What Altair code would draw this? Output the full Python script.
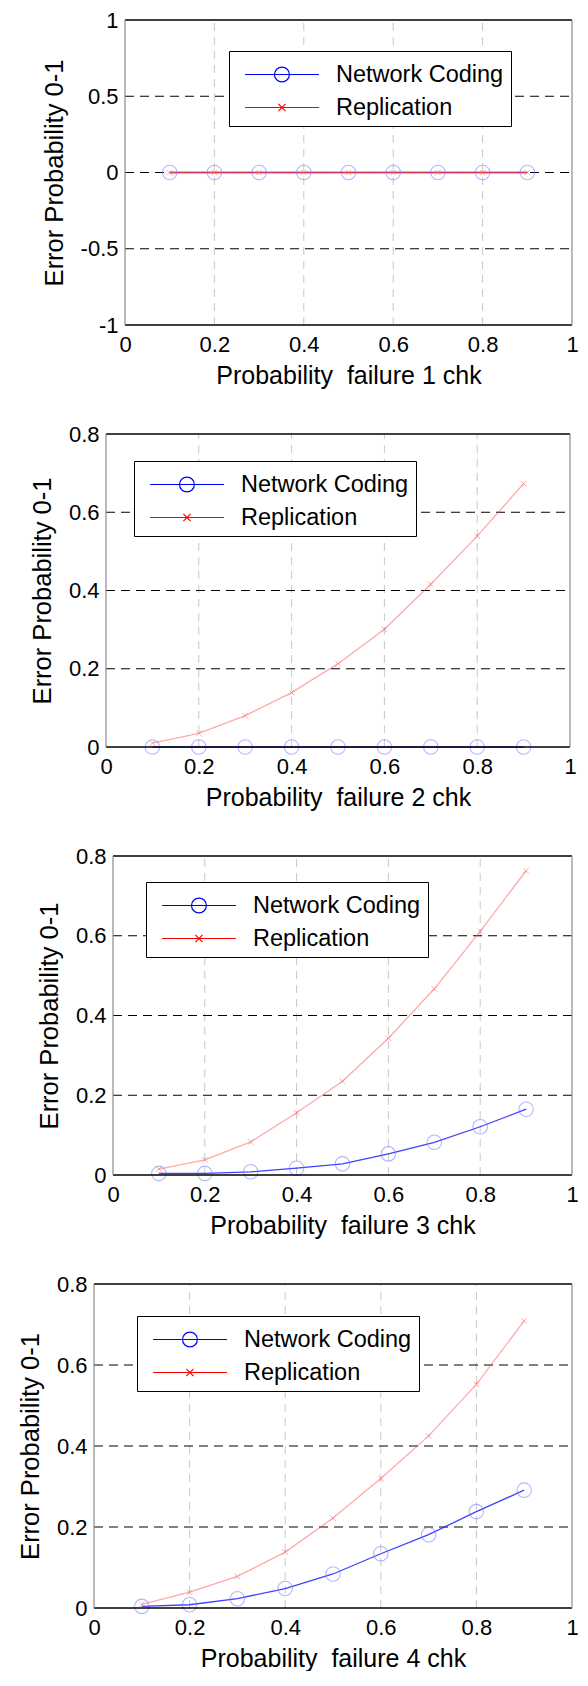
import altair as alt
import pandas as pd

# ---------------- data ----------------
x_vals = [0.1, 0.2, 0.3, 0.4, 0.5, 0.6, 0.7, 0.8, 0.9]
series_names = ["Network Coding", "Replication"]

nc_1 = [0, 0, 0, 0, 0, 0, 0, 0, 0]
rep_1 = [0, 0, 0, 0, 0, 0, 0, 0, 0]
nc_2 = [0, 0, 0, 0, 0, 0, 0, 0, 0]
rep_2 = [0.010, 0.035, 0.080, 0.139, 0.213, 0.301, 0.416, 0.539, 0.673]
nc_3 = [0.004, 0.004, 0.008, 0.017, 0.028, 0.053, 0.082, 0.121, 0.165]
rep_3 = [0.015, 0.038, 0.083, 0.156, 0.235, 0.343, 0.467, 0.611, 0.763]
nc_4 = [0.004, 0.008, 0.023, 0.048, 0.084, 0.134, 0.181, 0.238, 0.291]
rep_4 = [0.009, 0.039, 0.078, 0.138, 0.222, 0.320, 0.425, 0.552, 0.709]

nc_series = [nc_1, nc_2, nc_3, nc_4]
rep_series = [rep_1, rep_2, rep_3, rep_4]

x_titles = [
    "Probability \u00a0failure 1 chk",
    "Probability \u00a0failure 2 chk",
    "Probability \u00a0failure 3 chk",
    "Probability \u00a0failure 4 chk",
]
y_title = "Error Probability 0-1"

x_ticks = [0, 0.2, 0.4, 0.6, 0.8, 1]
x_grid = [0.2, 0.4, 0.6, 0.8]
y_domains = [[-1, 1], [0, 0.8], [0, 0.8], [0, 0.8]]
y_ticks = [[-1, -0.5, 0, 0.5, 1], [0, 0.2, 0.4, 0.6, 0.8],
           [0, 0.2, 0.4, 0.6, 0.8], [0, 0.2, 0.4, 0.6, 0.8]]
y_grid = [[-0.5, 0, 0.5], [0.2, 0.4, 0.6], [0.2, 0.4, 0.6], [0.2, 0.4, 0.6]]

# ---------------- layout / style ----------------
FONT = "Liberation Sans"
G = 95           # common plot-group origin (absolute x)
W = 478          # common group width
panel_left = [126, 107, 114, 95]
panel_right = [573, 571, 573, 573]
panel_height = [305, 313, 319, 324]
legend_xy = [(135, 31), (40, 27), (52, 26), (43, 32)]
rep_line_opacity = [0.8, 0.45, 0.45, 0.45]

NC_PATH = "M-0.48,0L4.29,0M2.38,0A0.48,0.48 0 1,1 1.42,0A0.48,0.48 0 1,1 2.38,0"
REP_PATH = "M-0.48,0L4.29,0M1.67,-0.23L2.13,0.23M1.67,0.23L2.13,-0.23"
X_MARK = "M-1,-1L1,1M-1,1L1,-1"


def panel(i):
    ymin, ymax = y_domains[i]
    off = panel_left[i] - G
    xscale = alt.Scale(domain=[0, 1], range=[off, panel_right[i] - G], nice=False, zero=False)
    yscale = alt.Scale(domain=[ymin, ymax], nice=False, zero=False)
    xaxis = alt.Axis(values=x_ticks, labelExpr="'' + datum.value", title=x_titles[i],
                     grid=False, domain=False, ticks=False, labelFlush=False, labelOverlap=False,
                     labelPadding=9, titlePadding=8, labelFontSize=22, titleFontSize=25,
                     labelFont=FONT, titleFont=FONT, titleFontWeight="normal",
                     labelColor="black", titleColor="black")
    yaxis = alt.Axis(values=y_ticks[i], labelExpr="'' + datum.value", title=y_title,
                     grid=False, domain=False, ticks=False, labelFlush=False, labelOverlap=False,
                     labelPadding=7, titlePadding=13, labelFontSize=22, titleFontSize=25.5,
                     labelFont=FONT, titleFont=FONT, titleFontWeight="normal",
                     labelColor="black", titleColor="black", offset=-off)

    df = pd.DataFrame({
        "x": x_vals + x_vals,
        "value": nc_series[i] + rep_series[i],
        "series": [series_names[0]] * len(x_vals) + [series_names[1]] * len(x_vals),
    })
    gx = pd.DataFrame({"x": x_grid, "value": [ymin] * len(x_grid), "value2": [ymax] * len(x_grid)})
    gy = pd.DataFrame({"x": [0] * len(y_grid[i]), "x2": [1] * len(y_grid[i]), "value": y_grid[i]})
    fh = pd.DataFrame({"x": [0, 0], "x2": [1, 1], "value": [ymin, ymax]})
    fv = pd.DataFrame({"x": [0, 1], "value": [ymin, ymin], "value2": [ymax, ymax]})

    X = alt.X("x:Q", scale=xscale, axis=xaxis)
    Y = alt.Y("value:Q", scale=yscale, axis=yaxis)

    grid_v = alt.Chart(gx).mark_rule(color="#c8c8c8", strokeWidth=1, strokeDash=[8, 6]).encode(
        x=X, y=Y, y2="value2:Q")
    grid_h = alt.Chart(gy).mark_rule(color="black", strokeWidth=1, strokeDash=[9, 6]).encode(
        x=X, x2="x2:Q", y=Y)

    nc_line = alt.Chart(df).transform_filter(alt.datum.series == series_names[0]).mark_line(
        color="#1f1fff", strokeWidth=1.3, opacity=0.85).encode(x=X, y=Y)
    rep_line = alt.Chart(df).transform_filter(alt.datum.series == series_names[1]).mark_line(
        color="#ff4040", strokeWidth=1.3, opacity=rep_line_opacity[i]).encode(x=X, y=Y)
    nc_pts = alt.Chart(df).transform_filter(alt.datum.series == series_names[0]).mark_point(
        shape="circle", size=210, filled=False, color="#7a7aff", strokeWidth=1.1, opacity=0.55
    ).encode(x=X, y=Y)
    rep_pts = alt.Chart(df).transform_filter(alt.datum.series == series_names[1]).mark_point(
        shape=X_MARK, size=30, filled=False, color="#ff6a6a", strokeWidth=1, opacity=0.6
    ).encode(x=X, y=Y)

    frame_h = alt.Chart(fh).mark_rule(color="black", strokeWidth=1.5).encode(x=X, x2="x2:Q", y=Y)
    frame_v = alt.Chart(fv).mark_rule(color="#8a8a8a", strokeWidth=1.2).encode(x=X, y=Y, y2="value2:Q")

    lx, ly = legend_xy[i]
    leg = alt.Legend(orient="none", legendX=lx, legendY=ly, title=None,
                     fillColor="white", strokeColor="black", padding=7, cornerRadius=0,
                     labelFont=FONT, labelFontSize=23.5, labelColor="black", labelLimit=400,
                     symbolSize=961, symbolStrokeWidth=1.2, symbolOpacity=1,
                     symbolFillColor="transparent", rowPadding=5, labelOffset=67)
    legend_layer = alt.Chart(df).mark_point(opacity=0, filled=False).encode(
        x=X, y=Y,
        color=alt.Color("series:N", scale=alt.Scale(domain=series_names, range=["#0000ff", "#ff0000"]),
                        legend=leg),
        shape=alt.Shape("series:N", scale=alt.Scale(domain=series_names, range=[NC_PATH, REP_PATH]),
                        legend=leg),
    )

    return alt.layer(grid_v, grid_h, nc_line, rep_line, nc_pts, rep_pts, frame_h, frame_v,
                     legend_layer).properties(width=W, height=panel_height[i])


chart = alt.vconcat(*[panel(i) for i in range(4)], spacing=35).resolve_scale(
    x="independent", y="independent", color="independent", shape="independent"
).resolve_legend(color="independent", shape="independent").properties(
    padding={"left": 10, "top": 1, "right": 0, "bottom": 0}, background="white"
).configure_view(stroke=None)

chart.save("out.html", embed_options={"renderer": "svg", "actions": False})
